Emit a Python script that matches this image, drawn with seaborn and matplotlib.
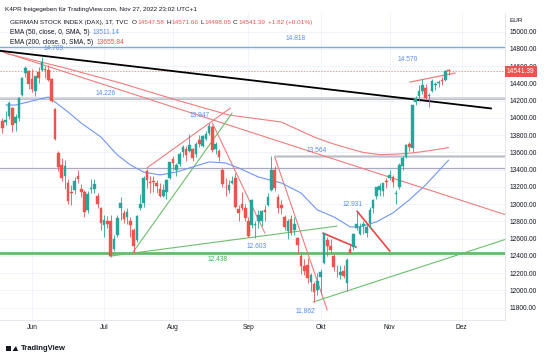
import pandas as pd
import matplotlib
matplotlib.use("Agg")
import matplotlib.pyplot as plt
import matplotlib.transforms as mtransforms
from matplotlib.patches import Rectangle, Polygon
import seaborn as sns

# daily DAX bars, 2022-05-19 .. 2022-11-25
opens = [13970, 13950, 14020, 14120, 13940, 14000, 14270, 14520, 14550,
         14450, 14310, 14530, 14560, 14570, 14560, 14450, 14100, 13590, 13450, 13330, 13250, 13130,
         13160, 13330, 13180, 13140, 12930, 13180, 13180, 13100, 12950,
         12760, 12810, 12810, 12480, 12640, 12950, 12900, 12850, 12800, 12700, 12580, 12950, 13010,
         13380, 13250, 13260, 13250, 13180, 13100, 13140, 13300,
         13520, 13400, 13470, 13600, 13640, 13620, 13640, 13580, 13750, 13680, 13760, 13830, 13900,
         13640, 13620, 13400, 13200, 13160, 13250, 13300, 12940, 13000, 12950,
         12800, 12760, 12760, 12800, 12800, 12930, 12990, 13160, 13400, 13080, 12990, 12850, 12690,
         12830, 12700, 12610, 12400, 12280, 12300, 12100, 12080, 12000,
         12150, 12320, 12580, 12520, 12400, 12230, 12180, 12230, 12090, 12480, 12500, 12720, 12660,
         12750, 12670, 12780, 12950, 13090, 13170, 13150, 13270,
         13300, 13320, 13120, 13200, 13440, 13550, 13700, 13650, 14190, 14250, 14310, 14350, 14250,
         14310, 14380, 14400, 14440, 14440, 14547.58]
highs = [14000, 14080, 14200, 14130, 14040, 14240, 14480, 14600, 14560,
         14570, 14490, 14590, 14709, 14600, 14610, 14460, 14120, 13620, 13530, 13510, 13290, 13220,
         13310, 13400, 13230, 13170, 13150, 13290, 13290, 13130, 12970,
         12880, 12860, 12870, 12640, 12880, 13080, 12930, 12960, 12850, 12720, 12870, 13120, 13330,
         13410, 13330, 13330, 13280, 13240, 13230, 13290, 13490,
         13560, 13480, 13600, 13690, 13680, 13810, 13650, 13720, 13800, 13800, 13850, 13947, 13920,
         13720, 13640, 13420, 13300, 13280, 13330, 13360, 12990, 13140, 13000,
         12850, 13060, 12800, 12930, 12930, 12990, 13130, 13564, 13440, 13120, 13050, 12870, 12830,
         12880, 12850, 12620, 12420, 12360, 12380, 12200, 12100, 12200,
         12250, 12670, 12620, 12600, 12420, 12300, 12290, 12290, 12380, 12530, 12670, 12931, 12780,
         12800, 12770, 12970, 13060, 13200, 13240, 13250, 13300,
         13400, 13340, 13170, 13480, 13560, 13700, 13720, 14150, 14250, 14380, 14450, 14390, 14290,
         14450, 14420, 14440, 14470, 14560, 14571.66]
lows = [13830, 13920, 13990, 13840, 13850, 13960, 14260, 14480, 14340,
        14300, 14260, 14400, 14540, 14460, 14430, 14190, 13740, 13380, 13270, 13180, 13000, 12990,
        13120, 13250, 13080, 12850, 12900, 13130, 13130, 12960, 12700,
        12620, 12720, 12390, 12460, 12620, 12820, 12780, 12770, 12620, 12438, 12560, 12930, 12970,
        13190, 13130, 13140, 13130, 13080, 13080, 13060, 13290,
        13400, 13330, 13440, 13550, 13500, 13600, 13500, 13550, 13660, 13660, 13740, 13800, 13600,
        13580, 13500, 13200, 13100, 13130, 13230, 12960, 12810, 12930, 12810,
        12620, 12720, 12603, 12720, 12750, 12800, 12980, 13150, 13150, 12900, 12890, 12700, 12600,
        12640, 12640, 12430, 12190, 12180, 12090, 11990, 11862, 11950,
        11960, 12310, 12400, 12430, 12220, 12150, 12130, 12140, 11990, 12430, 12470, 12700, 12640,
        12650, 12620, 12720, 12900, 13060, 13100, 13090, 13190,
        13280, 13200, 13000, 13180, 13400, 13530, 13620, 13600, 14150, 14200, 14280, 14220, 14130,
        14300, 14320, 14360, 14380, 14430, 14498.05]
closes = [13882, 13982, 14175, 13919, 14008, 14231, 14462, 14575, 14388,
          14340, 14485, 14460, 14653, 14556, 14445, 14198, 13761, 13427, 13304, 13447, 13038, 13126,
          13265, 13292, 13145, 12912, 13118, 13186, 13231, 13003, 12784,
          12813, 12773, 12401, 12595, 12843, 13015, 12832, 12905, 12756, 12519, 12864, 13000, 13308,
          13282, 13246, 13254, 13210, 13097, 13166, 13282, 13484,
          13479, 13449, 13587, 13662, 13573, 13687, 13535, 13700, 13694, 13795, 13816, 13910, 13627,
          13697, 13545, 13231, 13194, 13221, 13271, 12971, 12893, 12961, 12835,
          12631, 13050, 12761, 12872, 12916, 12904, 13088, 13402, 13189, 12957, 12956, 12741, 12803,
          12671, 12767, 12531, 12284, 12228, 12140, 12183, 11976, 12114,
          12209, 12670, 12517, 12470, 12273, 12220, 12219, 12172, 12356, 12438, 12649, 12765, 12741,
          12767, 12731, 12931, 13053, 13195, 13211, 13243, 13253,
          13338, 13257, 13130, 13459, 13533, 13688, 13666, 14146, 14224, 14313, 14379, 14234, 14266,
          14431, 14380, 14422, 14428, 14540, 14541.39]

# EMA readings (bar number, Jun 1 = 0)
ema50_bar = [-8, -5, 5, 11, 15, 21, 26, 30, 34, 39, 44, 49, 54, 59, 63, 69, 76, 82, 87, 92, 97, 100,
             105, 110, 115, 120, 127]
ema50_val = [14150, 14150, 14243, 14069, 13941, 13779, 13571, 13455, 13373, 13339, 13373, 13432,
             13490, 13478, 13420, 13316, 13246, 13130, 12933, 12853, 12737, 12737, 12795, 12898,
             13049, 13223, 13511]
ema200_bar = [-8, 10, 27, 44, 60, 76, 86, 91, 96, 101, 106, 111, 116, 122, 127]
ema200_val = [14750, 14580, 14405, 14208, 14034, 13953, 13779, 13710, 13652, 13600, 13575, 13580,
              13594, 13625, 13656]

# horizontal levels
level_blue = 14818
level_gray = 14226
level_gray2 = 13564
level_purple = 13424
level_green = 12438
last_price = 14541.39

# trend lines: (bar, price) anchors
black_trend = ([-10, 140], [14780, 14110])
red_long = ([-10, 145], [14780, 12870])
red_channel = ([35, 60.5], [13420, 14115])
red_aug = ([55, 71], [13940, 12665])
red_sep = ([74, 90], [13547, 11773])
red_flag = ([88.7, 98.8], [12664, 12502])
red_oct = ([99.1, 109.1], [12919, 12455])
red_wedge = ([115.2, 129], [14416, 14521])
green_steep = ([30.8, 61], [12444, 14056])
green_jul = ([23.8, 93], [12398, 12746])
green_sep = ([85.7, 145], [11866, 12600])

pivot_text = ["14.709", "14.818", "14.226", "13.947", "13.564", "14.570", "12.603", "11.862", "12.931"]
pivot_bar = [6.7, 80.5, 22.3, 51.2, 86.9, 114.6, 68.6, 83.2, 97.6]
pivot_price = [14800, 14927, 14289, 14023, 13628, 14683, 12515, 11759, 13000]

month_bar = [0, 22, 43, 66, 88, 109, 131]
month_lbl = ["Jun", "Jul", "Aug", "Sep", "Okt", "Nov", "Dez"]

dates = pd.bdate_range("2022-05-19", "2022-11-25")
df = pd.DataFrame({"date": dates, "open": opens, "high": highs, "low": lows, "close": closes})
df["bar"] = range(-9, -9 + len(df))
df["up"] = df["close"] >= df["open"]

GREEN = "#26a69a"
RED = "#ef5350"
BLUE = "#5b8def"
TXT = "#131722"

sns.set_theme(style="white")
plt.rcParams["font.family"] = ["Liberation Sans", "DejaVu Sans"]

fig = plt.figure(figsize=(5.5, 3.55), dpi=100)
ax = fig.add_axes([0, 1 - 320 / 355, 505 / 550, 307 / 355])

ax.set_xlim(-9.76, 144.2)
ax.set_ylim(11657, 15217)

# grid
for p in range(11800, 15200, 200):
    ax.axhline(p, color="#f0f3fa", lw=0.7, zorder=0)
for b in month_bar:
    ax.axvline(b, color="#f0f3fa", lw=0.7, zorder=0)

# horizontal levels
ax.axhline(level_blue, color="#7ea6f7", lw=1.0, zorder=1)
ax.axhline(level_gray, color="#d1d4dc", lw=2.0, zorder=1)
ax.axhline(level_gray - 8, color="#b8bcc6", lw=0.6, zorder=1)
ax.plot([74, 145], [level_gray2, level_gray2], color="#d1d4dc", lw=2.0, zorder=1)
ax.plot([74, 145], [level_gray2 - 8, level_gray2 - 8], color="#b8bcc6", lw=0.6, zorder=1)
ax.axhline(level_purple, color="#a9a9c0", lw=0.9, zorder=1)
ax.axhline(level_green, color="#66bb6a", lw=2.0, zorder=1)
ax.axhline(last_price, color=RED, lw=0.7, ls=(0, (1.5, 1.5)), alpha=0.6, zorder=1)

# trend lines
ax.plot(*black_trend, color="black", lw=1.3, zorder=4)
ax.plot(*red_long, color="#f07c7c", lw=0.8, zorder=2)
for ln in [red_channel, red_aug, red_sep]:
    ax.plot(*ln, color="#f07c7c", lw=0.8, zorder=2)
for ln in [red_flag, red_oct]:
    ax.plot(*ln, color="#ee4444", lw=1.2, zorder=4)
ax.plot(*red_wedge, color="#f07c7c", lw=0.9, zorder=2)
for ln in [green_steep, green_jul, green_sep]:
    ax.plot(*ln, color="#6cbf6c", lw=0.8, zorder=2)

# EMAs
sns.lineplot(x=ema50_bar, y=ema50_val, ax=ax, color="#6f97f2", lw=0.8, zorder=3)
sns.lineplot(x=ema200_bar, y=ema200_val, ax=ax, color="#f07c7c", lw=0.8, zorder=3)

# candles
cols = [GREEN if u else RED for u in df["up"]]
ax.vlines(df["bar"], df["low"], df["high"], colors=cols, lw=0.6, zorder=5)
body_lo = df[["open", "close"]].min(axis=1)
body_h = (df["close"] - df["open"]).abs().clip(lower=10)
ax.bar(df["bar"], body_h, bottom=body_lo, width=0.8, color=cols, edgecolor=cols, lw=0.3, zorder=6)

# pivot labels
for t, b, p in zip(pivot_text, pivot_bar, pivot_price):
    ax.text(b, p, t, color=BLUE, fontsize=4.8, ha="center", va="center", zorder=7)
ax.text(56.7, 12353, "12.438", color="#4caf50", fontsize=4.8, ha="center", va="center", zorder=7)

# axes styling
ax.yaxis.tick_right()
ax.set_yticks(range(11800, 15001, 200))
ax.set_yticklabels([f"{v:.2f}" for v in range(11800, 15001, 200)])
ax.set_xticks(month_bar)
ax.set_xticklabels(month_lbl)
ax.tick_params(axis="both", length=0, labelsize=4.8, colors=TXT, pad=3)
for s in ["top", "left"]:
    ax.spines[s].set_visible(False)
for s in ["right", "bottom"]:
    ax.spines[s].set_color("#e0e3eb")
    ax.spines[s].set_linewidth(0.6)

trans = mtransforms.blended_transform_factory(ax.transAxes, ax.transData)
ax.text(1.004, last_price, "14541.39", transform=trans, color="white", fontsize=4.8,
        va="center", ha="left", zorder=10, clip_on=False,
        bbox=dict(boxstyle="square,pad=0.3", fc=RED, ec="none"))

# header, pieces laid out left to right
renderer = fig.canvas.get_renderer()

def row(x, y, pieces, size):
    for s, c, gap in pieces:
        t = fig.text(x / 550, 1 - y / 355, s, color=c, fontsize=size, va="center", ha="left")
        x += t.get_window_extent(renderer).width + gap

fig.text(5 / 550, 1 - 9 / 355, "K4PR freigegeben für TradingView.com, Nov 27, 2022 23:02 UTC+1",
         color=TXT, fontsize=4.6, va="center", ha="left")
row(10, 22.5, [("GERMAN STOCK INDEX (DAX), 1T, TVC", TXT, 4),
               ("O", TXT, 0.8), ("14547.58", RED, 1.5),
               ("H", TXT, 0.8), ("14571.66", RED, 1.5),
               ("L", TXT, 0.8), ("14498.05", RED, 1.5),
               ("C", TXT, 0.8), ("14541.39", RED, 2.5),
               ("+1.82 (+0.01%)", RED, 0)], 4.6)
row(10, 32.5, [("EMA (50, close, 0, SMA, 5)", TXT, 3), ("13511.14", BLUE, 0)], 4.8)
row(10, 42, [("EMA (200, close, 0, SMA, 5)", TXT, 3), ("13655.84", RED, 0)], 4.8)
fig.text(509 / 550, 1 - 21 / 355, "EUR", color=TXT, fontsize=4.6, va="center", ha="left")

# footer logo
fig.add_artist(Rectangle((6 / 550, 1 - 351 / 355), 5 / 550, 5 / 355, color=TXT, lw=0))
fig.add_artist(Polygon([(12.5 / 550, 1 - 351 / 355), (16 / 550, 1 - 346 / 355), (18 / 550, 1 - 351 / 355)],
                       closed=True, color=TXT, lw=0))
fig.text(21 / 550, 1 - 348.5 / 355, "TradingView", color=TXT, fontsize=5.5, weight="bold",
         va="center", ha="left")

fig.savefig("out.png", dpi=100)
